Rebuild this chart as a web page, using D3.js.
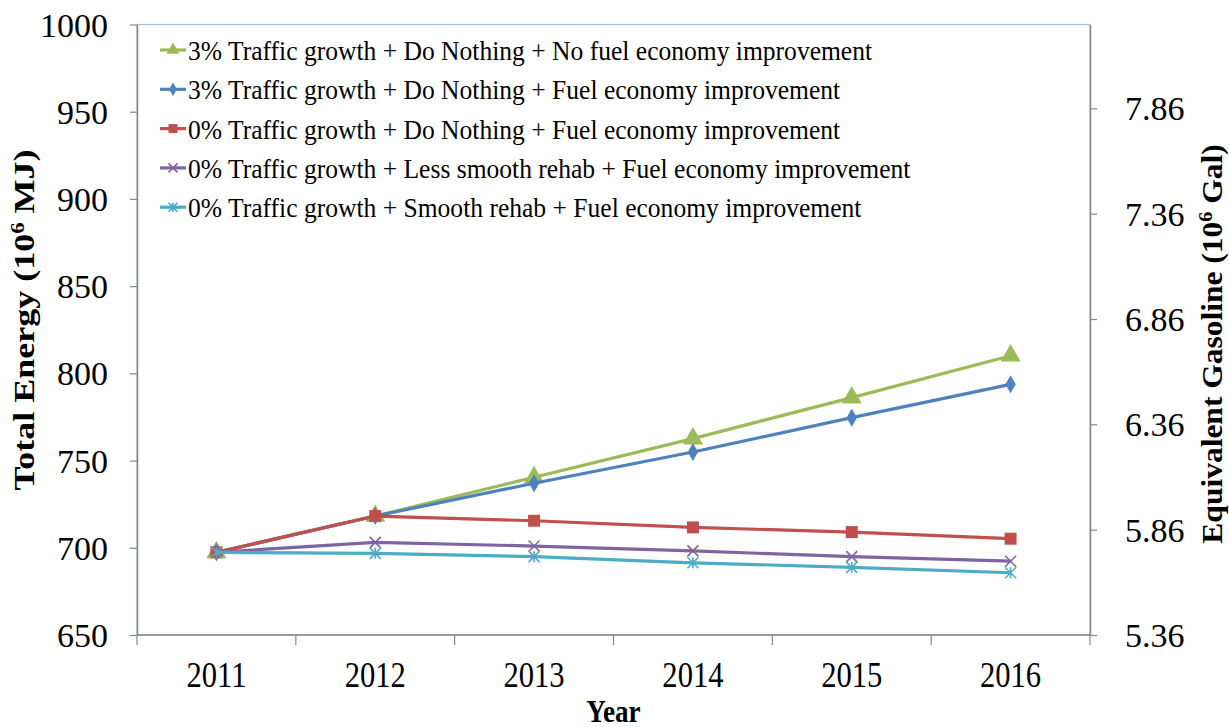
<!DOCTYPE html>
<html><head><meta charset="utf-8">
<script src="https://cdn.jsdelivr.net/npm/d3@7"></script>
<style>body{margin:0;background:#fff}svg{display:block}text{font-family:"Liberation Serif","Times New Roman",serif;fill:#000}</style>
</head><body><svg id="c" width="1229" height="727"></svg>
<script>
const years = ["2011","2012","2013","2014","2015","2016"];
const seriesNames = [
  "3% Traffic growth + Do Nothing + No fuel economy improvement",
  "3% Traffic growth + Do Nothing + Fuel economy improvement",
  "0% Traffic growth + Do Nothing + Fuel economy improvement",
  "0% Traffic growth + Less smooth rehab + Fuel economy improvement",
  "0% Traffic growth + Smooth rehab + Fuel economy improvement"
];
const greenVals  = [697.4, 718.2, 740.4, 762.6, 786.1, 810.1];
const blueVals   = [697.4, 718.2, 737.0, 754.9, 774.6, 793.7];
const redVals    = [697.4, 718.2, 715.5, 711.7, 709.0, 705.2];
const purpleVals = [697.4, 703.1, 701.0, 698.2, 694.9, 692.3];
const cyanVals   = [697.4, 696.8, 694.9, 691.4, 688.8, 685.7];
const leftTicks  = [650, 700, 750, 800, 850, 900, 950, 1000];
const rightTicks = [5.36, 5.86, 6.36, 6.86, 7.36, 7.86];
const colors = ["#9bbb59", "#4f81bd", "#c0504d", "#8064a2", "#4bacc6"];
const markers = ["triangle", "diamond", "square", "x", "star"];
const allVals = [greenVals, blueVals, redVals, purpleVals, cyanVals];

const svg = d3.select("#c");
const L = 137, R = 1090, T = 24.5, B = 635;
const x = d3.scaleBand().domain(years).range([L, R]);
const y = d3.scaleLinear().domain([650, 1000]).range([B, T]);
const y2 = d3.scaleLinear().domain([5.36, 8.258]).range([B, T]);

// plot border
svg.append("rect").attr("x", L).attr("y", T).attr("width", R - L).attr("height", B - T)
  .attr("fill", "none").attr("stroke", "#a7bedb").attr("stroke-width", 1.2);

function styleAxis(g){
  g.attr("font-family", null);
  g.selectAll("path").attr("stroke", "#868686").attr("stroke-width", 1.5);
  g.selectAll("line").attr("stroke", "#868686").attr("stroke-width", 1.2);
}
// left axis
const gl = svg.append("g").attr("transform", `translate(${L},0)`)
  .call(d3.axisLeft(y).tickValues(leftTicks).tickFormat(d3.format("d")).tickSize(7).tickSizeOuter(0).tickPadding(22));
styleAxis(gl);
gl.selectAll("text").style("font-size", "34px").attr("dy", "0.34em");
// right axis
const gr = svg.append("g").attr("transform", `translate(${R},0)`)
  .call(d3.axisRight(y2).tickValues(rightTicks).tickFormat(d3.format(".2f")).tickSize(7).tickSizeOuter(0).tickPadding(28));
styleAxis(gr);
gr.selectAll("text").style("font-size", "34px").attr("dy", "0.34em");
// bottom axis with ticks at band boundaries
const gb = svg.append("g").attr("transform", `translate(0,${B})`);
gb.append("line").attr("x1", L).attr("x2", R).attr("stroke", "#868686").attr("stroke-width", 1.5);
const bounds = years.map(d => x(d)).concat([R]);
gb.selectAll("line.tk").data(bounds).join("line").attr("class", "tk")
  .attr("x1", d => d).attr("x2", d => d).attr("y1", 0).attr("y2", 10)
  .attr("stroke", "#868686").attr("stroke-width", 1.2);
gb.selectAll("text.yl").data(years).join("text").attr("class", "yl")
  .attr("transform", d => `translate(${x(d) + x.bandwidth() / 2},52) scale(0.85,1)`)
  .attr("text-anchor", "middle").style("font-size", "36px").text(d => d);

// axis titles
svg.append("text").attr("transform", `translate(${x("2013") + x.bandwidth()},722) scale(0.85,1)`)
  .attr("text-anchor", "middle").style("font-size", "32px").style("font-weight", "bold").text("Year");
const lt = svg.append("text").attr("transform", `translate(34,${320}) rotate(-90) scale(1.2,1)`)
  .attr("text-anchor", "middle").style("font-size", "30px").style("font-weight", "bold");
lt.append("tspan").text("Total Energy (10");
lt.append("tspan").attr("dy", -10).style("font-size", "19px").text("6");
lt.append("tspan").attr("dy", 10).text(" MJ)");
const rt = svg.append("text").attr("transform", `translate(1222,${344}) rotate(-90) scale(1.05,1)`)
  .attr("text-anchor", "middle").style("font-size", "30px").style("font-weight", "bold");
rt.append("tspan").text("Equivalent Gasoline (10");
rt.append("tspan").attr("dy", -10).style("font-size", "19px").text("6");
rt.append("tspan").attr("dy", 10).text(" Gal)");

function drawMarker(g, type, color, cx, cy, s){
  if (type === "triangle") g.append("path").attr("d", d3.symbol(d3.symbolTriangle, s * s * 0.9)()).attr("transform", `translate(${cx},${cy})`).attr("fill", color);
  else if (type === "diamond") g.append("path").attr("d", d3.symbol(d3.symbolDiamond, s * s * 0.65)()).attr("transform", `translate(${cx},${cy})`).attr("fill", color);
  else if (type === "square") g.append("rect").attr("x", cx - s / 2).attr("y", cy - s / 2).attr("width", s).attr("height", s).attr("fill", color);
  else if (type === "x") {
    const h = s / 2;
    g.append("path").attr("d", `M${cx-h},${cy-h}L${cx+h},${cy+h}M${cx-h},${cy+h}L${cx+h},${cy-h}`).attr("stroke", color).attr("stroke-width", 1.6).attr("fill", "none");
  } else if (type === "star") {
    const h = s / 2;
    g.append("path").attr("d", `M${cx-h},${cy-h}L${cx+h},${cy+h}M${cx-h},${cy+h}L${cx+h},${cy-h}M${cx},${cy-h}L${cx},${cy+h}`).attr("stroke", color).attr("stroke-width", 1.6).attr("fill", "none");
  }
}
const markerSize = [14, 12, 12, 11, 11];
const line = d3.line().x((d, i) => x(years[i]) + x.bandwidth() / 2).y(d => y(d));
allVals.forEach((vals, k) => {
  const g = svg.append("g");
  g.append("path").attr("d", line(vals)).attr("fill", "none").attr("stroke", colors[k]).attr("stroke-width", 3.2).attr("stroke-linejoin", "round");
  vals.forEach((v, i) => drawMarker(g, markers[k], colors[k], x(years[i]) + x.bandwidth() / 2, y(v), markerSize[k]));
});

// legend
const lg = svg.append("g");
seriesNames.forEach((n, k) => {
  const ry = 50 + k * 39.3;
  lg.append("line").attr("x1", 160).attr("x2", 186).attr("y1", ry).attr("y2", ry).attr("stroke", colors[k]).attr("stroke-width", 3.2);
  drawMarker(lg, markers[k], colors[k], 173, ry, 9);
  lg.append("text").attr("transform", `translate(188,${ry + 10}) scale(0.913,1)`).style("font-size", "28px").text(n);
});
</script></body></html>
